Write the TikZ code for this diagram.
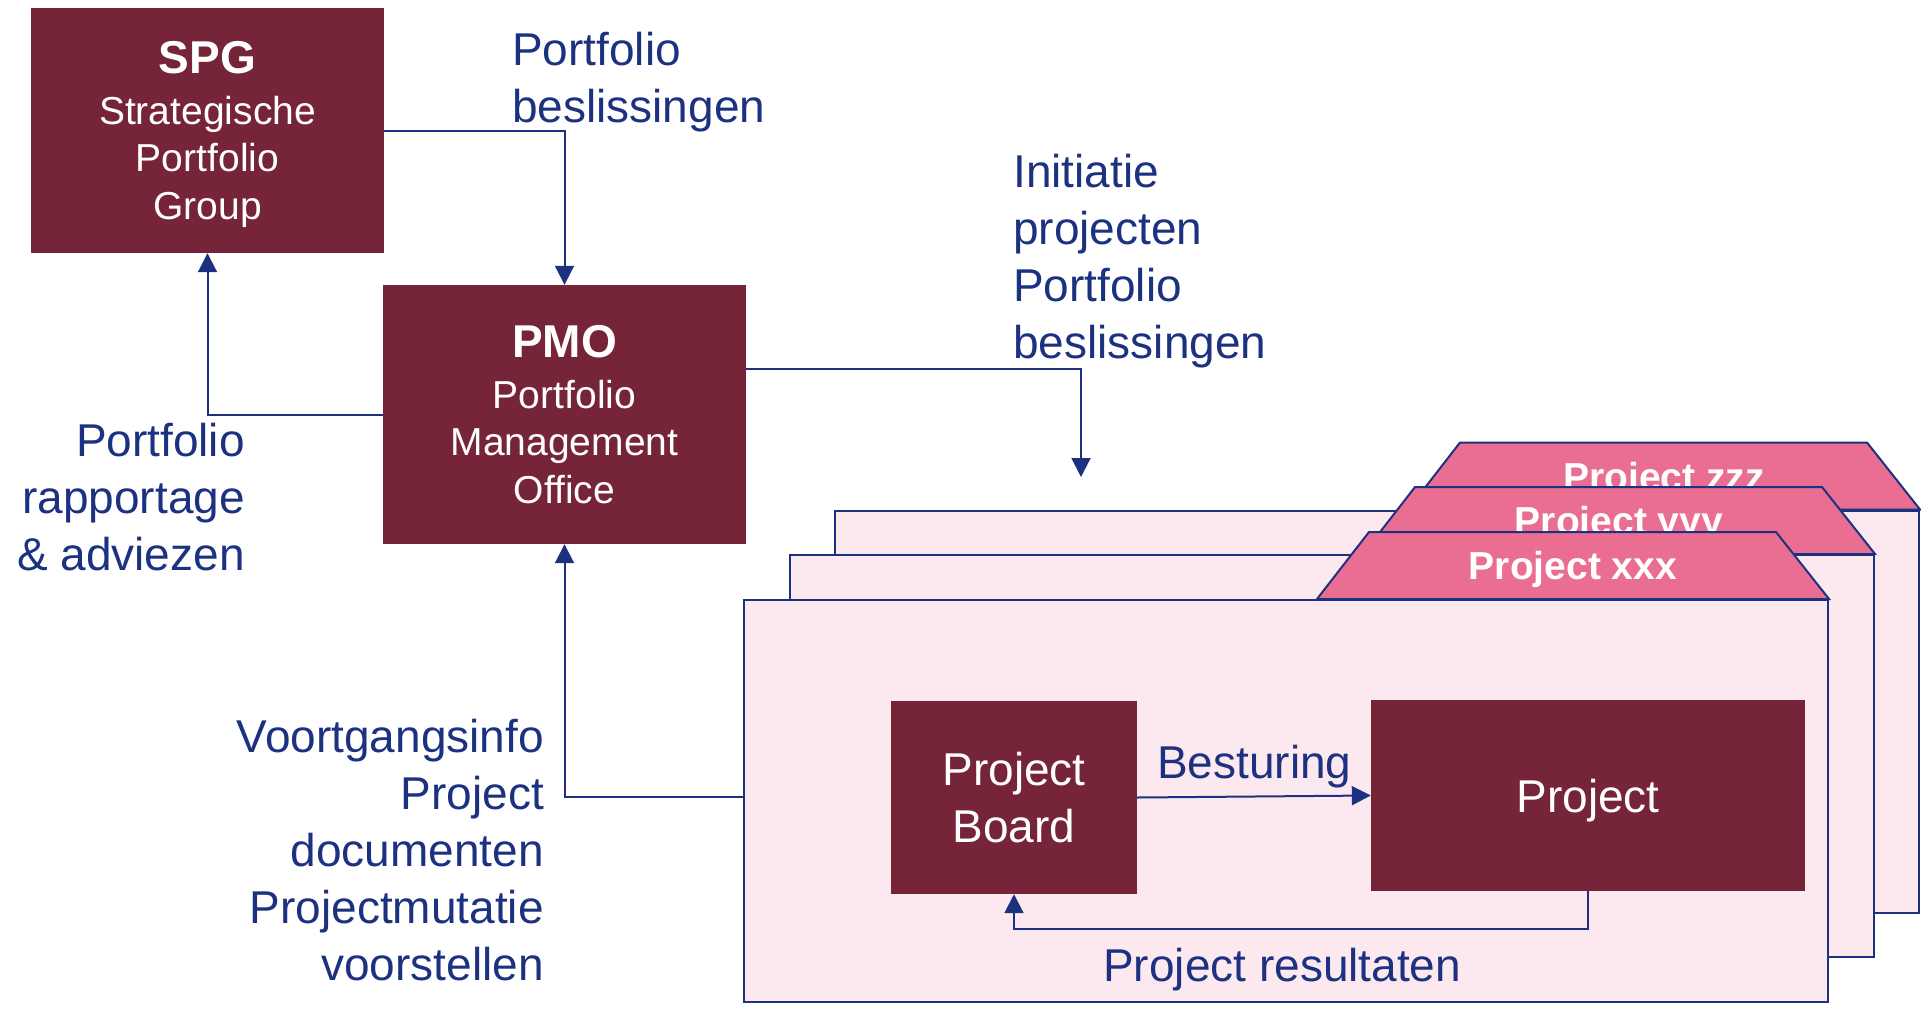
\documentclass[tikz,border=0pt]{standalone}
\usepackage{fontspec}
\setmainfont{Liberation Sans}
\usetikzlibrary{arrows.meta,calc}

\definecolor{boxred}{RGB}{118,36,55}
\definecolor{sheetpink}{RGB}{252,233,240}
\definecolor{tabpink}{RGB}{233,110,146}
\definecolor{linkblue}{RGB}{28,50,128}

\tikzset{
  darkbox/.style={fill=boxred, text=white, inner sep=0pt, align=center, font=\fontsize{39}{47.5}\selectfont},
  bigbox/.style={darkbox, font=\fontsize{46}{57}\selectfont},
  sheet/.style={draw=linkblue, line width=2pt, fill=sheetpink, minimum width=1084pt, minimum height=402pt, inner sep=0pt},
  tab/.style={draw=linkblue, line width=2pt, fill=tabpink},
  tablabel/.style={text=white, inner sep=0pt, text depth=0pt, font=\bfseries\fontsize{39}{47}\selectfont},
  flowlabel/.style={text=linkblue, inner sep=0pt, font=\fontsize{46}{57}\selectfont},
  conn/.style={draw=linkblue, line width=2pt, -{Triangle[length=19pt,width=19pt]}},
}

\begin{document}
\begin{tikzpicture}[x=1pt,y=1pt,yscale=-1]
  \useasboundingbox (0,0) rectangle (1921,1020);

  %Shape: Sheet zzz
  \node[sheet] (sheetz) at (1377,711.5) {};
  \draw[tab] (sheetz.north east) -- ++(-53,-67) -- ++(-407,0) -- ++(-52,67) -- cycle;
  \node[tablabel] (tabz) at ($(sheetz.north east)+(-256,-33.5)$) {Project zzz};
  %Shape: Sheet yyy
  \node[sheet] (sheety) at (1332,756) {};
  \draw[tab] (sheety.north east) -- ++(-53,-67) -- ++(-407,0) -- ++(-52,67) -- cycle;
  \node[tablabel] (taby) at ($(sheety.north east)+(-256,-33.5)$) {Project yyy};
  %Shape: Sheet xxx
  \node[sheet] (sheetx) at (1286,801) {};
  \draw[tab] (sheetx.north east) -- ++(-53,-67) -- ++(-407,0) -- ++(-52,67) -- cycle;
  \node[tablabel] (tabx) at ($(sheetx.north east)+(-256,-33.5)$) {Project xxx};

  %Shape: Rectangle
  \node[darkbox, minimum width=353pt, minimum height=245pt, text depth=0pt] (spg) at (207.5,130.5)
    {{\fontsize{46}{48}\selectfont\bfseries SPG}\\[3pt]Strategische\\Portfolio\\Group};
  %Shape: Rectangle
  \node[darkbox, minimum width=363pt, minimum height=259pt] (pmo) at (564.5,414.5)
    {{\fontsize{46}{48}\selectfont\bfseries PMO}\\[3pt]Portfolio\\Management\\Office};
  %Shape: Rectangle
  \node[bigbox, minimum width=246pt, minimum height=193pt] (board) at (1014,797.5) {Project\\Board};
  %Shape: Rectangle
  \node[bigbox, minimum width=434pt, minimum height=191pt, text depth=0pt] (project) at (1588,795.5) {Project};

  % Text Node
  \node[flowlabel, anchor=base west, align=left] (beslabel) at (512,122) {Portfolio\\beslissingen};
  % Text Node
  \node[flowlabel, anchor=base east, align=right] (rapplabel) at (245,570) {Portfolio\\rapportage\\\& adviezen};
  % Text Node
  \node[flowlabel, anchor=base west, align=left] (initlabel) at (1013,358) {Initiatie\\projecten\\Portfolio\\beslissingen};
  % Text Node
  \node[flowlabel, anchor=base east, align=right] (voortlabel) at (544,980) {Voortgangsinfo\\Project\\documenten\\Projectmutatie\\voorstellen};
  % Text Node
  \node[flowlabel, anchor=base west] (bestlabel) at (1157,778) {Besturing};
  % Text Node
  \node[flowlabel, anchor=base west] (reslabel) at (1103,981) {Project resultaten};

  %Connectors
  \coordinate (initdrop) at (1081,477);
  \draw[conn] (spg.east) -| (pmo.north);
  \draw[conn] (pmo.west) -| (spg.south);
  \draw[conn] ([yshift=-45.5pt]pmo.east) -| (initdrop);
  \draw[conn] ([yshift=-4pt]sheetx.west) -| (pmo.south);
  \draw[conn] (board.east) -- (project.west);
  \draw[conn] (project.south) -- ++(0,38) -| (board.south);
\end{tikzpicture}
\end{document}
